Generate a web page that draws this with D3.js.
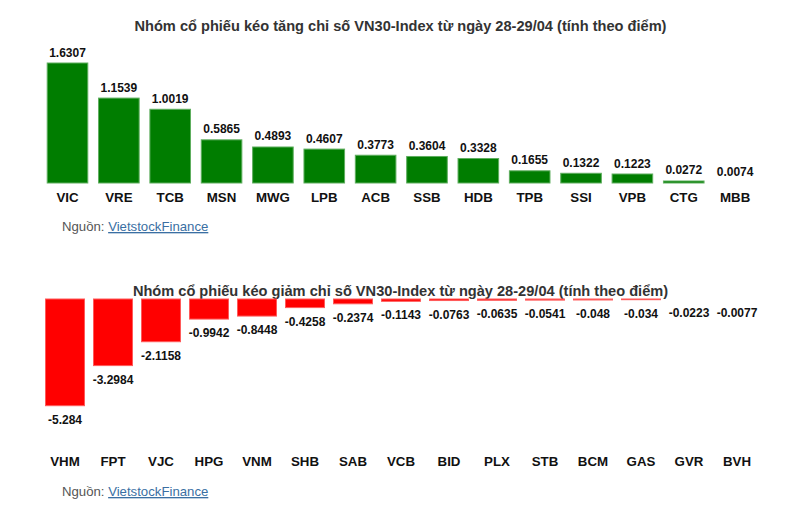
<!DOCTYPE html>
<html>
<head>
<meta charset="utf-8">
<script src="https://cdn.jsdelivr.net/npm/d3@7/dist/d3.min.js"></script>
<style>
  html, body { margin: 0; padding: 0; background: #fff; }
  svg { display: block; font-family: "Liberation Sans", Arial, sans-serif; }
</style>
</head>
<body>
<svg id="chart" width="802" height="521"></svg>
<script>
// ---- Data ----
const upTitle = "Nhóm cổ phiếu kéo tăng chỉ số VN30-Index từ ngày 28-29/04 (tính theo điểm)";
const upCategories = ["VIC","VRE","TCB","MSN","MWG","LPB","ACB","SSB","HDB","TPB","SSI","VPB","CTG","MBB"];
const upValues = [1.6307,1.1539,1.0019,0.5865,0.4893,0.4607,0.3773,0.3604,0.3328,0.1655,0.1322,0.1223,0.0272,0.0074];

const downTitle = "Nhóm cổ phiếu kéo giảm chỉ số VN30-Index từ ngày 28-29/04 (tính theo điểm)";
const downCategories = ["VHM","FPT","VJC","HPG","VNM","SHB","SAB","VCB","BID","PLX","STB","BCM","GAS","GVR","BVH"];
const downValues = [-5.284,-3.2984,-2.1158,-0.9942,-0.8448,-0.4258,-0.2374,-0.1143,-0.0763,-0.0635,-0.0541,-0.048,-0.034,-0.0223,-0.0077];

const sourceLabel = "Nguồn: ";
const sourceLink = "VietstockFinance";

const svg = d3.select("#chart");
const FONT = "'Liberation Sans', Arial, sans-serif";

// ---- Top chart ----
const xUp = d3.scaleBand().domain(upCategories).range([46.7, 755.9]).paddingInner(0.19).paddingOuter(0);
const yUp = d3.scaleLinear().domain([0, d3.max(upValues)]).range([183, 63]);

const gUp = svg.append("g");
gUp.append("text").attr("x", 400.5).attr("y", 31).attr("text-anchor", "middle")
  .attr("font-size", 14.6).attr("font-weight", "bold").attr("fill", "#333").text(upTitle);

gUp.selectAll("rect").data(upValues.filter(d => yUp(0) - yUp(d) >= 0.6)).join("rect")
  .attr("x", (d, i) => xUp(upCategories[upValues.indexOf(d)]) + 0.5)
  .attr("width", xUp.bandwidth() - 1)
  .attr("y", d => yUp(d))
  .attr("height", d => yUp(0) - yUp(d))
  .attr("fill", "#007d00").attr("stroke", "#5fae5f").attr("stroke-width", 1);

gUp.selectAll("text.val").data(upValues).join("text").attr("class", "val")
  .attr("x", (d, i) => xUp(upCategories[i]) + xUp.bandwidth() / 2)
  .attr("y", d => yUp(d) - 6.5)
  .attr("text-anchor", "middle").attr("font-size", 12).attr("font-weight", "bold").attr("fill", "#111")
  .text(d => String(d));

const axUp = gUp.append("g").attr("transform", "translate(0,183)")
  .call(d3.axisBottom(xUp).tickSize(0).tickPadding(0));
axUp.select(".domain").remove();
axUp.selectAll("text").attr("dy", null).attr("y", 18.5)
  .attr("font-size", 13.3).attr("font-weight", "bold").attr("fill", "#111")
  .attr("font-family", FONT);

function source(y) {
  const t = svg.append("text").attr("x", 62).attr("y", y).attr("font-size", 13.2);
  t.append("tspan").attr("fill", "#555").text(sourceLabel.trim());
  t.append("tspan").attr("fill", "#3a6fa3").attr("dx", 3.6).attr("text-decoration", "underline").text(sourceLink);
}
source(231);

// ---- Bottom chart ----
const xDn = d3.scaleBand().domain(downCategories).range([45, 757]).paddingInner(0.167).paddingOuter(0);
const yDn = d3.scaleLinear().domain([d3.min(downValues), 0]).range([405.7, 299]);

const gDn = svg.append("g");
gDn.append("text").attr("x", 400.5).attr("y", 296).attr("text-anchor", "middle")
  .attr("font-size", 14.6).attr("font-weight", "bold").attr("fill", "#333").text(downTitle);

gDn.selectAll("rect").data(downValues.filter(d => yDn(d) - yDn(0) >= 0.6)).join("rect")
  .attr("x", d => xDn(downCategories[downValues.indexOf(d)]) + 0.5)
  .attr("width", xDn.bandwidth() - 1)
  .attr("y", yDn(0))
  .attr("height", d => yDn(d) - yDn(0))
  .attr("fill", "#ff0000").attr("stroke", "#ff5a5a").attr("stroke-width", 1);

gDn.selectAll("text.val").data(downValues).join("text").attr("class", "val")
  .attr("x", (d, i) => xDn(downCategories[i]) + xDn.bandwidth() / 2)
  .attr("y", d => yDn(d) + 18)
  .attr("text-anchor", "middle").attr("font-size", 12).attr("font-weight", "bold").attr("fill", "#111")
  .text(d => String(d));

const axDn = gDn.append("g").attr("transform", "translate(0,406)")
  .call(d3.axisBottom(xDn).tickSize(0).tickPadding(0));
axDn.select(".domain").remove();
axDn.selectAll("text").attr("dy", null).attr("y", 59.7)
  .attr("font-size", 13.3).attr("font-weight", "bold").attr("fill", "#111")
  .attr("font-family", FONT);

source(496);
</script>
</body>
</html>
